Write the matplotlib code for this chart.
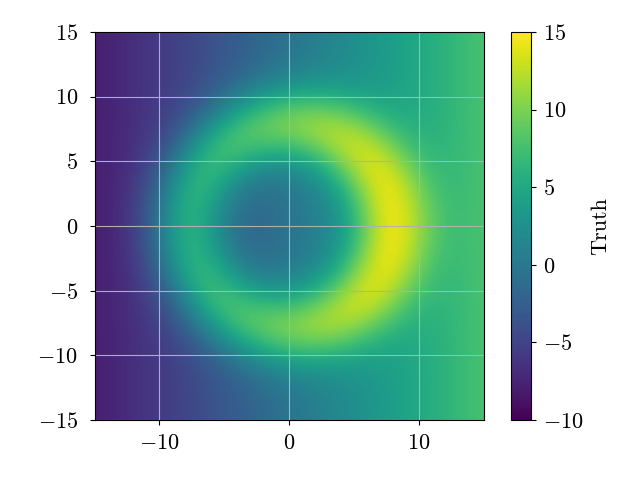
import matplotlib
matplotlib.use('Agg')
import matplotlib.pyplot as plt
import numpy as np

plt.rcParams['font.family'] = 'cmr10'
plt.rcParams['mathtext.fontset'] = 'cm'
plt.rcParams['axes.formatter.use_mathtext'] = True
plt.rcParams['font.size'] = 16

# values, every 1.5 units, top row is y = 15
truth = [
    [-7.95, -7.33, -6.6, -5.93, -5.25, -4.53, -3.7, -2.88, -2.05, -1.23, -0.4, 0.43, 1.25, 2.08, 2.9, 3.73, 4.55, 5.38, 6.2, 7.03, 7.85],
    [-7.95, -7.33, -6.6, -5.93, -5.25, -4.53, -3.7, -2.82, -1.93, -1.07, -0.21, 0.59, 1.37, 2.14, 2.9, 3.73, 4.55, 5.38, 6.2, 7.03, 7.85],
    [-7.95, -7.33, -6.6, -5.93, -5.25, -4.46, -3.5, -2.42, -1.25, -0.15, 0.8, 1.51, 2.05, 2.54, 3.1, 3.8, 4.55, 5.38, 6.2, 7.03, 7.85],
    [-7.95, -7.33, -6.6, -5.91, -5.13, -4.13, -2.62, -0.78, 1.15, 2.82, 3.94, 4.48, 4.45, 4.18, 3.98, 4.13, 4.67, 5.4, 6.2, 7.03, 7.85],
    [-7.95, -7.33, -6.6, -5.81, -4.75, -2.93, -0.25, 2.82, 5.51, 7.47, 8.6, 9.13, 8.81, 7.78, 6.35, 5.33, 5.05, 5.5, 6.2, 7.03, 7.85],
    [-7.95, -7.33, -6.53, -5.53, -3.65, -0.48, 3.5, 6.77, 8.65, 9.57, 10.3, 11.23, 11.95, 11.73, 10.1, 7.78, 6.15, 5.78, 6.27, 7.03, 7.85],
    [-7.95, -7.33, -6.4, -4.85, -1.8, 2.67, 6.5, 7.82, 7.25, 6.55, 6.8, 8.21, 10.55, 12.78, 13.1, 10.93, 8.0, 6.46, 6.4, 7.03, 7.85],
    [-7.95, -7.27, -6.14, -3.83, 0.45, 5.12, 7.0, 5.42, 3.24, 2.12, 2.37, 3.78, 6.54, 10.38, 13.6, 13.38, 10.25, 7.48, 6.66, 7.09, 7.85],
    [-7.95, -7.21, -5.8, -2.73, 2.31, 6.17, 5.6, 2.41, 0.15, -0.32, 0.2, 1.34, 3.45, 7.37, 12.2, 14.43, 12.11, 8.58, 7.0, 7.15, 7.85],
    [-7.95, -7.17, -5.52, -1.88, 3.45, 6.27, 4.08, 0.47, -1.14, -1.04, -0.32, 0.62, 2.16, 5.43, 10.68, 14.53, 13.25, 9.43, 7.28, 7.19, 7.85],
    [-7.95, -7.14, -5.4, -1.59, 3.75, 6.17, 3.5, -0.11, -1.45, -1.15, -0.4, 0.51, 1.85, 4.85, 10.1, 14.43, 13.55, 9.72, 7.4, 7.22, 7.85],
    [-7.95, -7.17, -5.52, -1.88, 3.45, 6.27, 4.08, 0.47, -1.14, -1.04, -0.32, 0.62, 2.16, 5.43, 10.68, 14.53, 13.25, 9.43, 7.28, 7.19, 7.85],
    [-7.95, -7.21, -5.8, -2.73, 2.31, 6.17, 5.6, 2.41, 0.15, -0.32, 0.2, 1.34, 3.45, 7.37, 12.2, 14.43, 12.11, 8.58, 7.0, 7.15, 7.85],
    [-7.95, -7.27, -6.14, -3.83, 0.45, 5.12, 7.0, 5.42, 3.24, 2.12, 2.37, 3.78, 6.54, 10.38, 13.6, 13.38, 10.25, 7.48, 6.66, 7.09, 7.85],
    [-7.95, -7.33, -6.4, -4.85, -1.8, 2.67, 6.5, 7.82, 7.25, 6.55, 6.8, 8.21, 10.55, 12.78, 13.1, 10.93, 8.0, 6.46, 6.4, 7.03, 7.85],
    [-7.95, -7.33, -6.53, -5.53, -3.65, -0.48, 3.5, 6.77, 8.65, 9.57, 10.3, 11.23, 11.95, 11.73, 10.1, 7.78, 6.15, 5.78, 6.27, 7.03, 7.85],
    [-7.95, -7.33, -6.6, -5.81, -4.75, -2.93, -0.25, 2.82, 5.51, 7.47, 8.6, 9.13, 8.81, 7.78, 6.35, 5.33, 5.05, 5.5, 6.2, 7.03, 7.85],
    [-7.95, -7.33, -6.6, -5.91, -5.13, -4.13, -2.62, -0.78, 1.15, 2.82, 3.94, 4.48, 4.45, 4.18, 3.98, 4.13, 4.67, 5.4, 6.2, 7.03, 7.85],
    [-7.95, -7.33, -6.6, -5.93, -5.25, -4.46, -3.5, -2.42, -1.25, -0.15, 0.8, 1.51, 2.05, 2.54, 3.1, 3.8, 4.55, 5.38, 6.2, 7.03, 7.85],
    [-7.95, -7.33, -6.6, -5.93, -5.25, -4.53, -3.7, -2.82, -1.93, -1.07, -0.21, 0.59, 1.37, 2.14, 2.9, 3.73, 4.55, 5.38, 6.2, 7.03, 7.85],
    [-7.95, -7.33, -6.6, -5.93, -5.25, -4.53, -3.7, -2.88, -2.05, -1.23, -0.4, 0.43, 1.25, 2.08, 2.9, 3.73, 4.55, 5.38, 6.2, 7.03, 7.85],
]
x_ticks = [-10, 0, 10]
y_ticks = [-15, -10, -5, 0, 5, 10, 15]
cbar_ticks = [-10, -5, 0, 5, 10, 15]


def tex(values):
    return [f'${v}$' for v in values]


fig = plt.figure(figsize=(6.4, 4.8), dpi=100)
ax = fig.add_axes([94.6 / 640, 60 / 480, 389.4 / 640, 388 / 480])
cax = fig.add_axes([511 / 640, 60 / 480, 20 / 640, 388 / 480])

im = ax.imshow(np.array(truth), extent=[-15.75, 15.75, -15.75, 15.75], cmap='viridis',
               vmin=-10, vmax=15, interpolation='bicubic', aspect='auto')
ax.set_xlim(-15, 15)
ax.set_ylim(-15, 15)
ax.set_xticks(x_ticks, tex(x_ticks))
ax.set_yticks(y_ticks, tex(y_ticks))
ax.tick_params(axis='x', pad=6)
ax.tick_params(axis='y', pad=8.5)
ax.grid(True)

cbar = fig.colorbar(im, cax=cax)
cbar.set_ticks(cbar_ticks, labels=tex(cbar_ticks))
cbar.ax.tick_params(pad=5)
cbar.set_label('Truth', labelpad=5)

fig.savefig('out.png', dpi=100)
